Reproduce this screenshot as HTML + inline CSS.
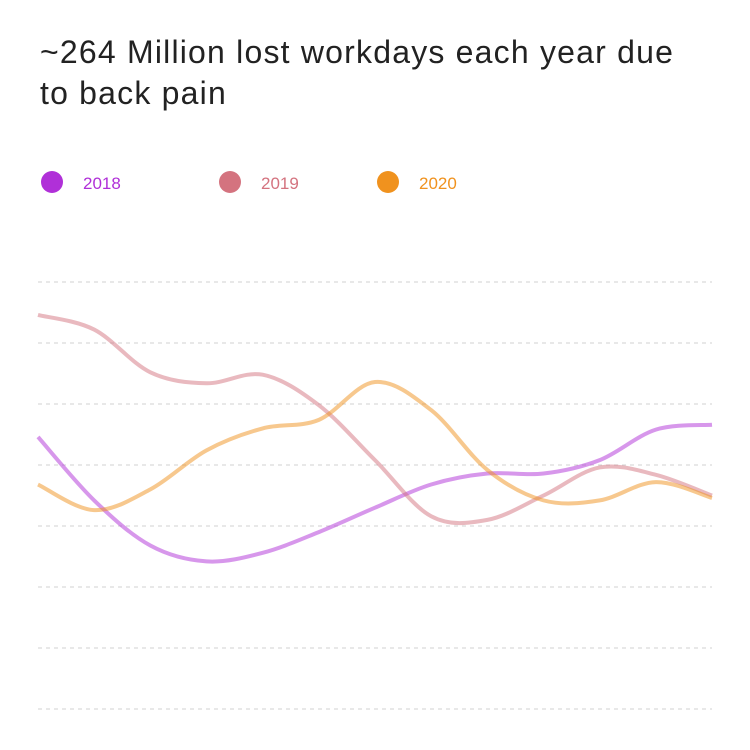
<!DOCTYPE html>
<html><head><meta charset="utf-8"><style>
body{margin:0;width:750px;height:750px;background:#fff;font-family:"Liberation Sans",sans-serif;overflow:hidden}
#title{position:absolute;left:40px;top:32px;font-size:32px;line-height:41px;letter-spacing:1.2px;color:#222;width:700px;white-space:nowrap}
svg{position:absolute;left:0;top:0}
</style></head><body>
<div id="title">~264 Million lost workdays each year due<br>to back pain</div>
<svg id="chart" width="750" height="750"></svg>
<script>
const categories=[0,1,2,3,4,5,6,7,8,9,10,11,12];
const s2018=[223,171,134,121,128,145,165,184,193,193,204,229,233];
const s2019=[323,311,276,267,274,249,204,158,155,175,198,192,175];
const s2020=[184,163,180,212,230,237,268,245,196,171,171,186,173];
const seriesNames=["2018","2019","2020"];
const yTicks=[0,50,100,150,200,250,300,350];
const colors=["#b030d8","#d4737f","#f0921e"];
const NS="http://www.w3.org/2000/svg";
const svg=document.getElementById('chart');
const x0=38,x1=712,yb=709,yt=282;
const xs=i=>x0+(x1-x0)*i/(categories.length-1);
const ys=v=>yb-(yb-yt)*v/350;
yTicks.forEach(t=>{
  const l=document.createElementNS(NS,'line');
  
  
  l.setAttribute('x1',x0);l.setAttribute('x2',x1);
  l.setAttribute('y1',ys(t));l.setAttribute('y2',ys(t));
  l.setAttribute('stroke','#d0d0d0');l.setAttribute('stroke-dasharray','4 4');
  svg.appendChild(l);
});
function pathFor(vals){
  const p=vals.map((v,i)=>[xs(i),ys(v)]);
  let d='M'+p[0][0]+','+p[0][1];
  for(let i=0;i<p.length-1;i++){
    const a=p[Math.max(0,i-1)],b=p[i],c=p[i+1],e=p[Math.min(p.length-1,i+2)];
    const c1=[b[0]+(c[0]-a[0])/6,b[1]+(c[1]-a[1])/6];
    const c2=[c[0]-(e[0]-b[0])/6,c[1]-(e[1]-b[1])/6];
    d+=' C'+c1+' '+c2+' '+c;
  }
  return d;
}
[s2018,s2019,s2020].forEach((s,k)=>{
  const pa=document.createElementNS(NS,'path');
  
  
  pa.setAttribute('d',pathFor(s));
  pa.setAttribute('fill','none');pa.setAttribute('stroke',colors[k]);
  pa.setAttribute('stroke-width','4');pa.setAttribute('stroke-opacity','0.5');
  svg.appendChild(pa);
});
const lx=[52,230,388];
seriesNames.forEach((n,k)=>{
  const g=document.createElementNS(NS,'g');
  
  
  const c=document.createElementNS(NS,'circle');
  c.setAttribute('cx',lx[k]);c.setAttribute('cy',182);c.setAttribute('r',11);c.setAttribute('fill',colors[k]);
  const t=document.createElementNS(NS,'text');
  t.setAttribute('x',lx[k]+31);t.setAttribute('y',189);t.setAttribute('fill',colors[k]);
  t.setAttribute('font-size','17');t.setAttribute('font-family','Liberation Sans, sans-serif');
  t.textContent=n;
  g.appendChild(c);g.appendChild(t);svg.appendChild(g);
});
</script>
</body></html>
